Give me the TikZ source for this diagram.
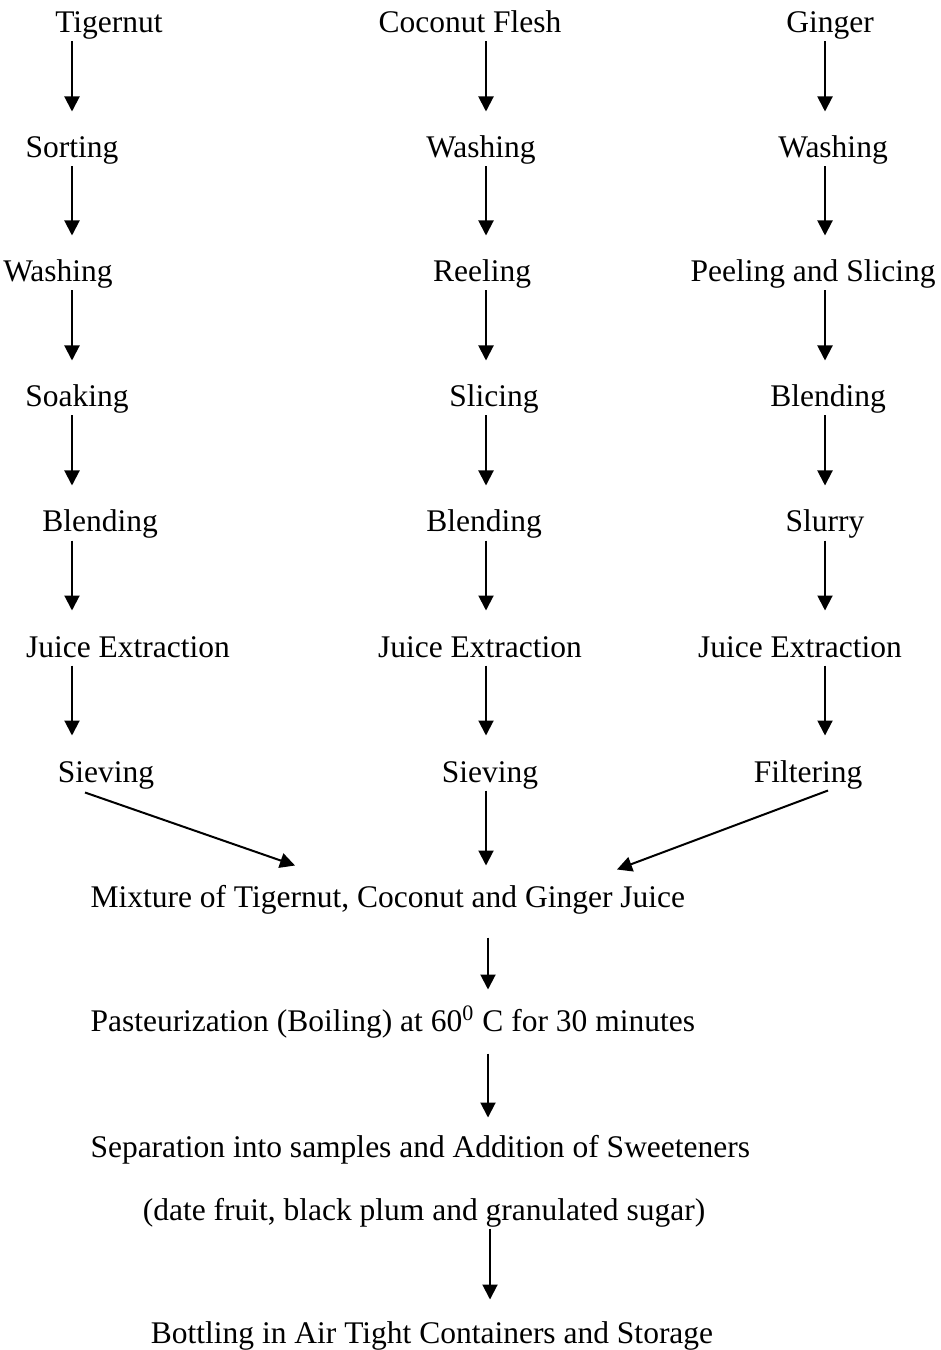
\documentclass[tikz,border=0pt]{standalone}
\usepackage{fontspec}
\setmainfont{Liberation Serif}
\usetikzlibrary{positioning,calc,arrows.meta}
\tikzset{lbl/.style={anchor=base, inner sep=0pt, text height=8.8pt, text depth=3.2pt, font=\fontsize{12.6}{15}\selectfont}}
\tikzset{arr/.style={draw, -{Triangle[length=6pt,width=6pt]}, line width=0.8pt, shorten >=9.6pt}}

\begin{document}
\begin{tikzpicture}[x=0.4pt,y=-0.4pt]
	\useasboundingbox (0,0) rectangle (940,1350);
	\coordinate (xa) at (72,0);
	\coordinate (xb) at (486,0);
	\coordinate (xc) at (825,0);
	\coordinate (xm) at (488,0);
	% tigernut
	\node[lbl] (tig1) at (109,33) {Tigernut};
	\node[lbl] (tig2) at (72,158) {Sorting};
	\node[lbl] (tig3) at (58,282) {Washing};
	\node[lbl] (tig4) at (77,407) {Soaking};
	\node[lbl] (tig5) at (100,532) {Blending};
	\node[lbl] (tig6) at (128,657) {Juice Extraction};
	\node[lbl] (tig7) at (106,782) {Sieving};
	% coconut
	\node[lbl] (coc1) at (470,33) {Coconut Flesh};
	\node[lbl] (coc2) at (481,158) {Washing};
	\node[lbl] (coc3) at (482,282) {Reeling};
	\node[lbl] (coc4) at (494,407) {Slicing};
	\node[lbl] (coc5) at (484,532) {Blending};
	\node[lbl] (coc6) at (480,657) {Juice Extraction};
	\node[lbl] (coc7) at (490,782) {Sieving};
	% ginger
	\node[lbl] (gin1) at (830,33) {Ginger};
	\node[lbl] (gin2) at (833,158) {Washing};
	\node[lbl] (gin3) at (813,282) {Peeling and Slicing};
	\node[lbl] (gin4) at (828,407) {Blending};
	\node[lbl] (gin5) at (825,532) {Slurry};
	\node[lbl] (gin6) at (800,657) {Juice Extraction};
	\node[lbl] (gin7) at (808,782) {Filtering};
	%
	\foreach \i/\j in {1/2,2/3,3/4,4/5,5/6,6/7}{
		\draw[arr] (tig\i.south -| xa) -- (tig\j.north -| xa);
		\draw[arr] (coc\i.south -| xb) -- (coc\j.north -| xb);
		\draw[arr] (gin\i.south -| xc) -- (gin\j.north -| xc);
	}
	% mixing and after
	\node[lbl, anchor=base west] (mix) at (90,907) {Mixture of Tigernut, Coconut and Ginger Juice};
	\node[lbl, anchor=base west] (past) at (90,1031) {Pasteurization (Boiling) at 60\textsuperscript{0} C for 30 minutes};
	\node[lbl, anchor=base west] (sep) at (90,1157) {Separation into samples and Addition of Sweeteners};
	\node[lbl] (sweet) at (424,1220) {(date fruit, black plum and granulated sugar)};
	\node[lbl] (bott) at (432,1343) {Bottling in Air Tight Containers and Storage};
	%
	\draw[arr, shorten >=0pt] ($(tig7.south)+(-21,2)$) -- ($(mix.north west)+(205,-19)$);
	\draw[arr, shorten >=7.6pt] (coc7.south -| xb) -- (mix.north -| xb);
	\draw[arr, shorten >=0pt] ($(gin7.south)+(20,0)$) -- ($(mix.north west)+(527,-15)$);
	\draw[arr, shorten <=8.8pt, shorten >=7.6pt] (mix.south -| xm) -- (past.north -| xm);
	\draw[arr, shorten <=5.6pt, shorten >=6.8pt] (past.south -| xm) -- (sep.north -| xm);
	\draw[arr, shorten >=8.4pt] ([xshift=0.8pt]sweet.south -| xm) -- ([xshift=0.8pt]bott.north -| xm);
\end{tikzpicture}
\end{document}
